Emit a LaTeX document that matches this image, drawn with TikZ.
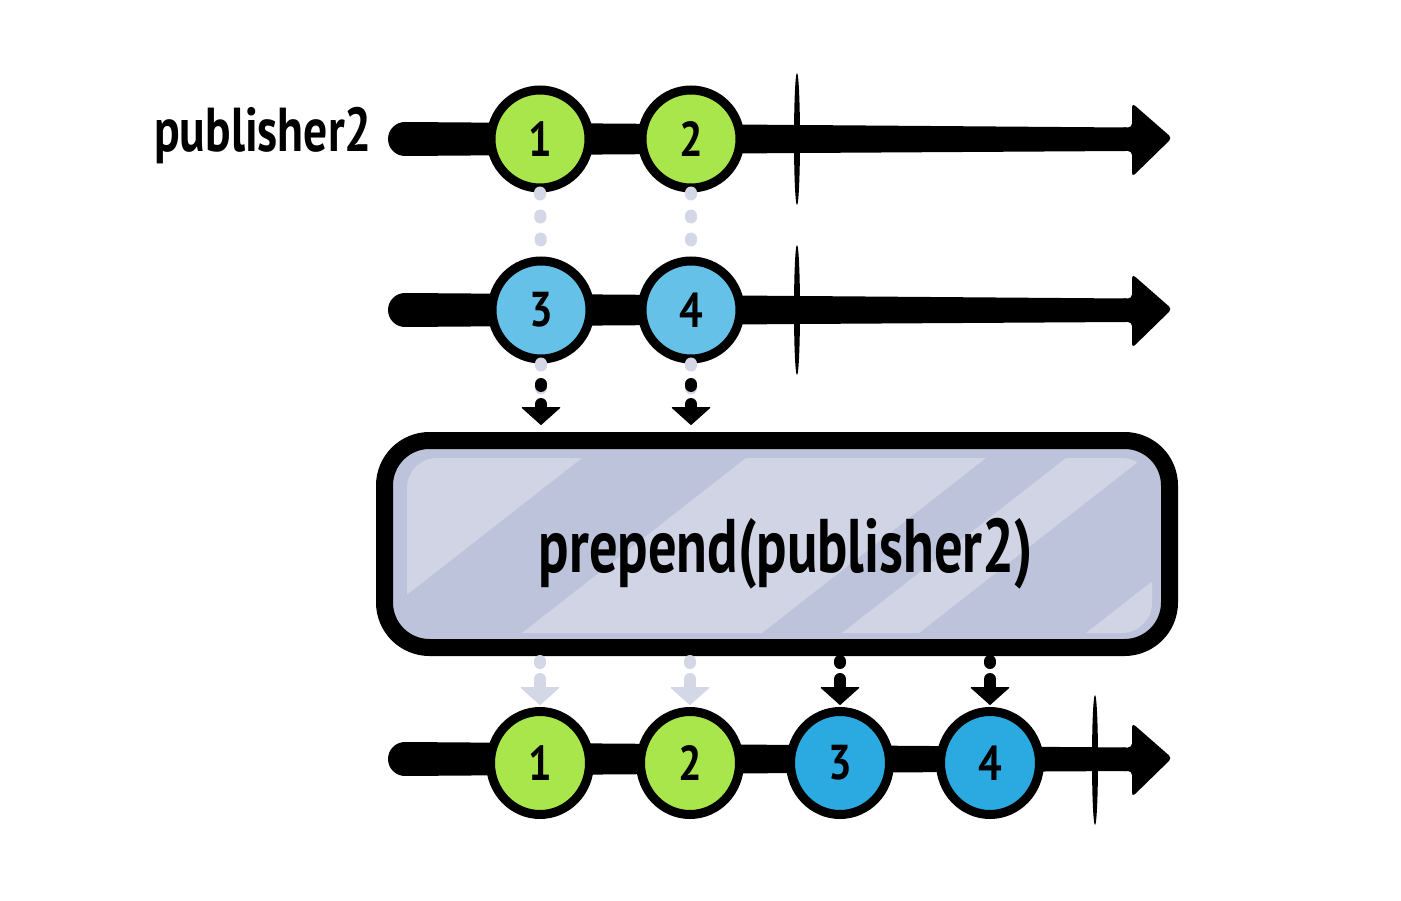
\documentclass[tikz,border=0pt]{standalone}
\usepackage{fontspec}
\setmainfont{PT Sans}
\usetikzlibrary{arrows.meta,shapes.geometric,calc}
\definecolor{grn}{HTML}{A8E64B}
\definecolor{lblue}{HTML}{66C1E8}
\definecolor{dblue}{HTML}{2AAAE1}
\definecolor{boxc}{HTML}{BDC3DA}
\definecolor{stripec}{HTML}{D0D4E5}
\definecolor{dotc}{HTML}{D3D7E6}
\newcommand\digitfont{\bfseries\fontsize{49}{49}\selectfont}
\newcommand\labelfont{\bfseries\fontsize{62}{62}\selectfont}
\newcommand\boxfont{\bfseries\fontsize{76}{76}\selectfont}
\newcommand\tline[1]{%
  \fill (405,{#1-17}) -- (800,{#1-14}) -- (1126,{#1-11.5}) -- (1126,{#1+12}) -- (800,{#1+14}) -- (405,{#1+17}) arc(90:270:17) -- cycle;
  \fill[rounded corners=4pt] (1120,{#1-11.5}) -- (1132,{#1-11.5}) -- (1132,{#1-36}) -- (1172,{#1-1}) -- (1132,{#1+38}) -- (1132,{#1+12}) -- (1120,{#1+12}) -- cycle;}
\begin{document}
\begin{tikzpicture}[x=1pt,y=-1pt,
  marble/.style={circle,draw=black,line width=9pt,minimum size=98pt,inner sep=0pt,font=\digitfont},
  marblewide/.style={ellipse,draw=black,line width=9pt,minimum width=99pt,minimum height=103pt,inner sep=0pt,font=\digitfont},
  faint/.style={draw=dotc,line width=12pt,line cap=round,dash pattern=on 2pt off 21pt},
  pushdown/.style={line width=12pt,line cap=round,-{Triangle[width=40pt,length=18pt,line width=1pt,round]}},
  optbox/.style={draw=black,line width=17pt,rounded corners=45pt,fill=boxc,minimum width=785pt,minimum height=207pt,inner sep=0pt}]
\useasboundingbox (0,0) rectangle (1401,901);
\fill[white] (0,0) rectangle (1401,901);
% timelines
\tline{139}
\tline{310}
\tline{759}
\fill (797,139) ellipse (3 and 66);
\fill (797,310) ellipse (3 and 65);
\fill (1095,760) ellipse (3 and 65);
% label
\node[font=\labelfont,anchor=base,inner sep=0pt] (lbl) at (263,152) {\scalebox{0.768}[1]{publisher2}};
% operator box
\node[optbox] (op) at (777,544) {};
% marbles
\node[marble,fill=grn] (a1) at (540,139) {\scalebox{0.85}[1]{1}};
\node[marble,fill=grn] (a2) at (691,139) {\scalebox{0.85}[1]{2}};
\node[marble,fill=lblue] (b3) at (541,310) {\scalebox{0.85}[1]{3}};
\node[marble,fill=lblue] (b4) at (691,310) {\scalebox{0.85}[1]{4}};
\node[marblewide,fill=grn] (c1) at (540,763) {\scalebox{0.85}[1]{1}};
\node[marblewide,fill=grn] (c2) at (690,763) {\scalebox{0.85}[1]{2}};
\node[marblewide,fill=dblue] (c3) at (840,763) {\scalebox{0.85}[1]{3}};
\node[marblewide,fill=dblue] (c4) at (990,763) {\scalebox{0.85}[1]{4}};
% faint guides
\draw[faint] (a1.south) -- (b3.north);
\draw[faint] (a2.south) -- (b4.north);
\draw[faint] (b3.south) -- (b3 |- op.north);
\draw[faint] (b4.south) -- (b4 |- op.north);
% stripes in operator box
\begin{scope}
  \clip[rounded corners=30pt] (407,458) rectangle (1152,633);
  \fill[stripec] (342,458) -- (582,458) -- (358,633) -- (118,633) -- cycle;
  \fill[stripec] (746,458) -- (986,458) -- (762,633) -- (522,633) -- cycle;
  \fill[stripec] (1066,458) -- (1143,458) -- (919,633) -- (842,633) -- cycle;
  \fill[stripec] (1310,458) -- (1600,458) -- (1376,633) -- (1086,633) -- cycle;
\end{scope}
\node[font=\boxfont,anchor=base,inner sep=0pt] (optxt) at (786,572) {\scalebox{0.743}[1]{prepend(publisher2)}};
% arrows into operator
\draw[pushdown,color=black,dash pattern=on 2pt off 18pt on 40pt] ($(b3)+(0,74)$) -- ($(b3 |- op.north)+(0,-7)$);
\draw[pushdown,color=black,dash pattern=on 2pt off 18pt on 40pt] ($(b4)+(0,74)$) -- ($(b4 |- op.north)+(0,-7)$);
% arrows out of operator
\draw[pushdown,color=dotc,dash pattern=on 2pt off 16pt on 40pt] ($(op.south -| c1)+(0,5)$) -- ($(c1.north)+(0,-2)$);
\draw[pushdown,color=dotc,dash pattern=on 2pt off 16pt on 40pt] ($(op.south -| c2)+(0,5)$) -- ($(c2.north)+(0,-2)$);
\draw[pushdown,color=black,dash pattern=on 2pt off 16pt on 40pt] ($(op.south -| c3)+(0,5)$) -- ($(c3.north)+(0,-2)$);
\draw[pushdown,color=black,dash pattern=on 2pt off 16pt on 40pt] ($(op.south -| c4)+(0,5)$) -- ($(c4.north)+(0,-2)$);
\end{tikzpicture}
\end{document}
